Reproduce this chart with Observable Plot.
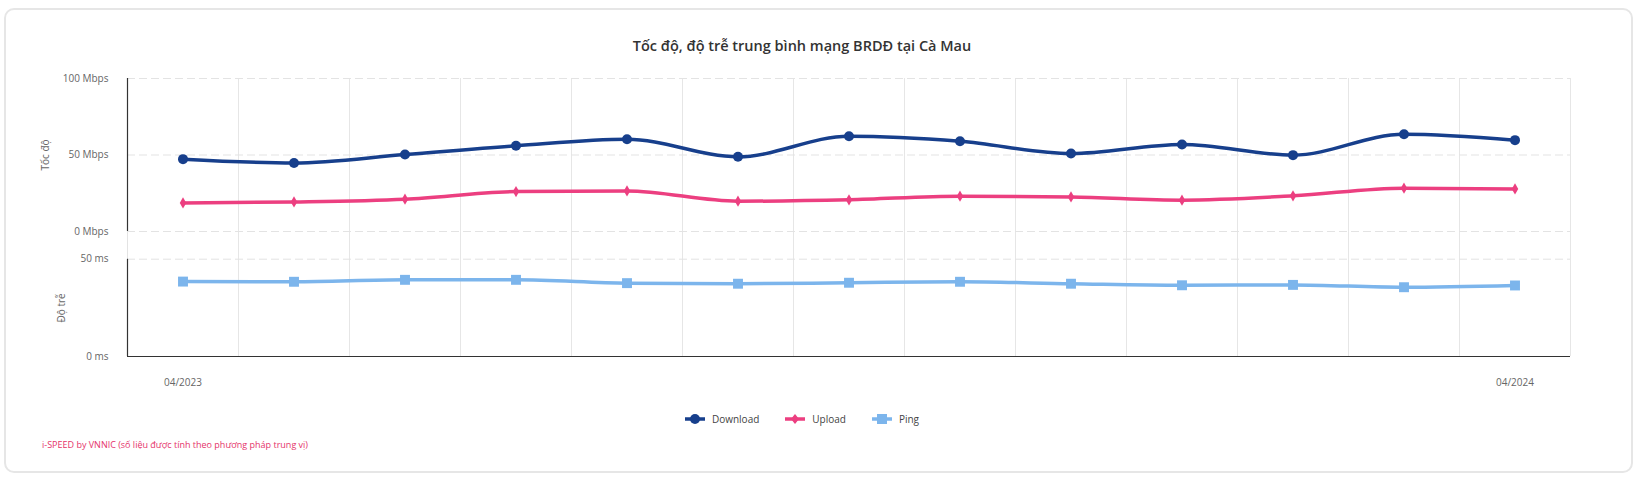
<!DOCTYPE html>
<html>
<head>
<meta charset="utf-8">
<script src="https://cdn.jsdelivr.net/npm/d3@7"></script>
<script src="https://cdn.jsdelivr.net/npm/@observablehq/plot@0.6"></script>
<style>
  html, body { margin: 0; padding: 0; background: #fff; }
  body { width: 1640px; height: 478px; position: relative; overflow: hidden; font-family: "Open Sans", sans-serif; }
  #card { position: absolute; left: 4px; top: 8px; width: 1629px; height: 465px; box-sizing: border-box; border: 2px solid #e6e6e6; border-radius: 10px; }
  #title { position: absolute; left: 0; width: 1604px; top: 36px; text-align: center; font-size: 14.5px; font-weight: 600; color: #333; }
  #topPanel, #bottomPanel { position: absolute; left: 0; }
  #topPanel { top: 60px; }
  #bottomPanel { top: 240px; }
  #legend { position: absolute; top: 412px; left: 0; width: 1604px; display: flex; justify-content: center; gap: 26px; font-size: 10px; color: #444; }
  #legend .item { display: flex; align-items: center; gap: 7px; }
  #caption { position: absolute; left: 42px; top: 438px; font-size: 9px; color: #e5336a; }
</style>
</head>
<body>
<div id="card"></div>
<div id="title">Tốc độ, độ trễ trung bình mạng BRDĐ tại Cà Mau</div>
<div id="topPanel"></div>
<div id="bottomPanel"></div>
<div id="legend"></div>
<div id="caption">i-SPEED by VNNIC (số liệu được tính theo phương pháp trung vị)</div>
<script>
const months = ["04/2023","05/2023","06/2023","07/2023","08/2023","09/2023","10/2023","11/2023","12/2023","01/2024","02/2024","03/2024","04/2024"];
const download = [47.3, 44.8, 50.3, 56.0, 60.3, 48.8, 62.3, 59.0, 51.0, 56.9, 49.9, 63.6, 59.7];
const upload   = [18.7, 19.3, 21.1, 26.1, 26.5, 19.8, 20.7, 23.1, 22.6, 20.5, 23.3, 28.3, 27.8];
const ping     = [38.5, 38.4, 39.4, 39.4, 37.7, 37.4, 37.9, 38.4, 37.4, 36.6, 36.8, 35.6, 36.5];
const speedTicks = [0, 50, 100];
const pingTicks = [0, 50];
const seriesNames = ["Download", "Upload", "Ping"];
const colors = {Download: "#173f8c", Upload: "#ec3f80", Ping: "#7cb5ec"};

const n = months.length;
const xDomain = [-0.5, n - 0.5];
const boundaries = d3.range(n).map(i => i + 0.5);
const speedData = months.flatMap((m, i) => [
  {i, series: "Download", value: download[i]},
  {i, series: "Upload", value: upload[i]}
]);
const pingData = months.map((m, i) => ({i, series: "Ping", value: ping[i]}));

const common = {
  width: 1640,
  marginLeft: 127,
  marginRight: 70,
  style: {fontFamily: "'Open Sans', sans-serif", fontSize: "10px", color: "#666", background: "transparent", overflow: "visible"}
};

const topChart = Plot.plot({
  ...common,
  height: 200,
  marginTop: 18,
  marginBottom: 29,
  x: {type: "linear", domain: xDomain, axis: null},
  y: {domain: [0, 100]},
  marks: [
    Plot.ruleX(boundaries, {stroke: "#e6e6e6", insetBottom: -14}),
    Plot.ruleY(speedTicks, {stroke: "#e3e3e3", strokeDasharray: "8,4"}),
    Plot.ruleX([xDomain[0]], {stroke: "#e3e3e3", insetBottom: -27}),
    Plot.ruleX([xDomain[0]], {stroke: "#333", strokeWidth: 1.2}),
    Plot.axisY({ticks: speedTicks, tickSize: 0, tickPadding: 19, tickFormat: d => `${d} Mbps`,
      label: "Tốc độ", labelAnchor: "center", labelOffset: 86, labelArrow: "none"}),
    Plot.line(speedData, {x: "i", y: "value", z: "series", stroke: d => colors[d.series], strokeWidth: 3.5, curve: "monotone-x"}),
    Plot.dot(speedData.filter(d => d.series === "Download"), {x: "i", y: "value", r: 5, fill: colors.Download, stroke: "none"}),
    Plot.dot(speedData.filter(d => d.series === "Upload"), {x: "i", y: "value", r: 3.4, symbol: "diamond", fill: colors.Upload, stroke: "none"})
  ]
});
document.getElementById("topPanel").appendChild(topChart);

const bottomChart = Plot.plot({
  ...common,
  height: 156,
  marginTop: 18.7,
  marginBottom: 40,
  x: {type: "linear", domain: xDomain},
  y: {domain: [0, 50]},
  marks: [
    Plot.ruleX(boundaries, {stroke: "#e6e6e6", insetTop: -14}),
    Plot.ruleY([pingTicks[1]], {stroke: "#e3e3e3", strokeDasharray: "8,4"}),
    Plot.ruleX([xDomain[0]], {stroke: "#333", strokeWidth: 1.2}),
    Plot.ruleY([pingTicks[0]], {stroke: "#333", strokeWidth: 1.2}),
    Plot.axisY({ticks: pingTicks, tickSize: 0, tickPadding: 19, tickFormat: d => `${d} ms`,
      label: "Độ trễ", labelAnchor: "center", labelOffset: 70, labelArrow: "none"}),
    Plot.axisX({ticks: [0, n - 1], tickSize: 0, tickPadding: 22, tickFormat: i => months[i], label: null}),
    Plot.line(pingData, {x: "i", y: "value", stroke: colors.Ping, strokeWidth: 3.5, curve: "monotone-x"}),
    Plot.dot(pingData, {x: "i", y: "value", r: 5.6, symbol: "square", fill: colors.Ping, stroke: "none"})
  ]
});
document.getElementById("bottomPanel").appendChild(bottomChart);

// legend
const legendEl = document.getElementById("legend");
const shapes = {
  Download: c => `<circle cx="10" cy="5" r="5" fill="${c}"/>`,
  Upload: c => `<path d="M10 0 L14 5 L10 10 L6 5 Z" fill="${c}"/>`,
  Ping: c => `<rect x="5" y="0" width="10" height="10" fill="${c}"/>`
};
seriesNames.forEach(name => {
  const c = colors[name];
  const item = document.createElement("div");
  item.className = "item";
  item.innerHTML = `<svg width="20" height="10"><line x1="0" x2="20" y1="5" y2="5" stroke="${c}" stroke-width="3.5"/>${shapes[name](c)}</svg><span>${name}</span>`;
  legendEl.appendChild(item);
});
</script>
</body>
</html>
